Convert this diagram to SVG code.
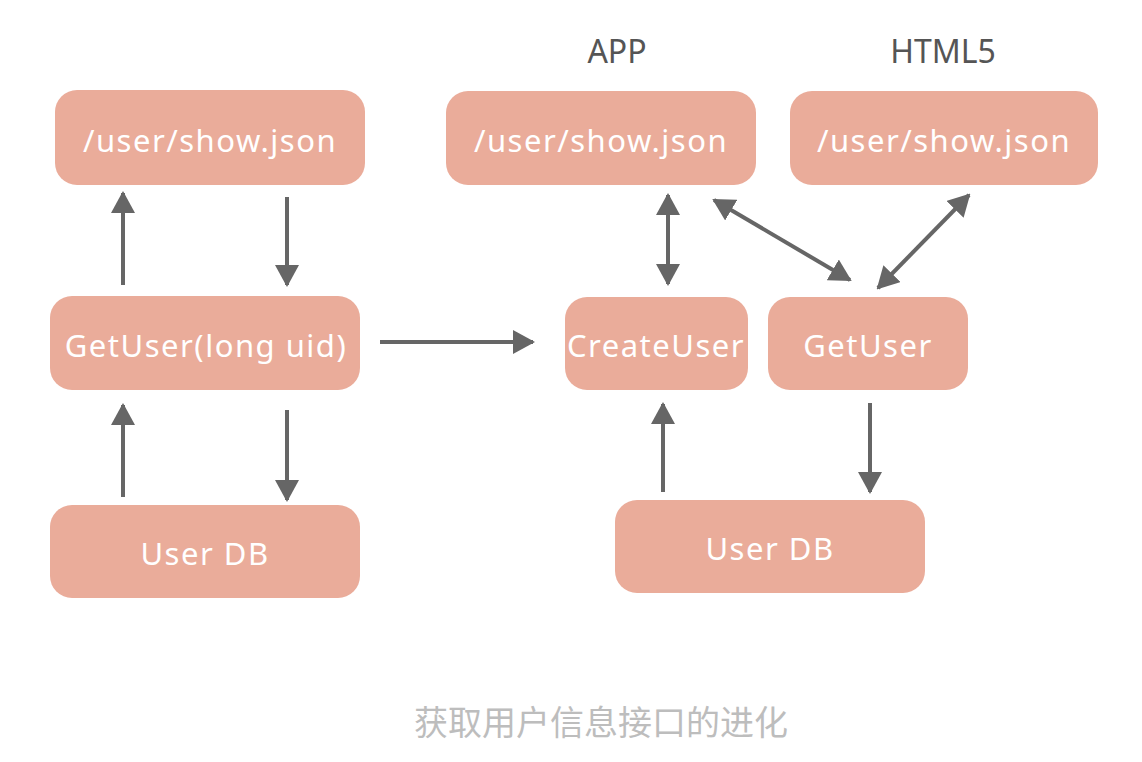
<svg xmlns="http://www.w3.org/2000/svg" width="1142" height="762" viewBox="0 0 1142 762">
<style>
.box{fill:#EAAC9A;}
.t{font-family:"Noto Sans","Liberation Sans",sans-serif;font-size:31px;letter-spacing:1.5px;fill:#ffffff;text-anchor:middle;dominant-baseline:central;}
.lbl{font-family:"Noto Sans","Liberation Sans",sans-serif;font-size:32px;fill:#555555;text-anchor:middle;dominant-baseline:central;}
.cap{font-family:"Noto Sans CJK SC",sans-serif;font-size:34px;fill:#bdbdbd;text-anchor:middle;dominant-baseline:central;}
.c{stroke:#666666;stroke-width:4;fill:none;}
</style>
<defs>
<marker id="ah" viewBox="0 0 22 24" refX="20" refY="12" markerWidth="22" markerHeight="24" markerUnits="userSpaceOnUse" orient="auto-start-reverse">
<path d="M0,0 L22,12 L0,24 Z" fill="#666666"/>
</marker>
</defs>
<rect width="1142" height="762" fill="#ffffff"/>
<text class="lbl" x="617" y="50">APP</text>
<text class="lbl" x="943" y="50">HTML5</text>
<g id="l-show"><rect class="box" x="55" y="90" width="310" height="95" rx="22"/><text class="t" x="210" y="140">/user/show.json</text></g>
<g id="l-getuser"><rect class="box" x="50" y="296" width="310" height="94" rx="22"/><text class="t" x="206" y="345">GetUser(long uid)</text></g>
<g id="l-db"><rect class="box" x="50" y="505" width="310" height="93" rx="22"/><text class="t" x="205" y="553">User DB</text></g>
<g id="app-show"><rect class="box" x="446" y="91" width="310" height="94" rx="22"/><text class="t" x="601" y="140">/user/show.json</text></g>
<g id="h5-show"><rect class="box" x="790" y="91" width="308" height="94" rx="22"/><text class="t" x="944" y="140">/user/show.json</text></g>
<g id="createuser"><rect class="box" x="565" y="297" width="183" height="93" rx="22"/><text class="t" x="656" y="345">CreateUser</text></g>
<g id="getuser"><rect class="box" x="768" y="297" width="200" height="93" rx="22"/><text class="t" x="868" y="345">GetUser</text></g>
<g id="r-db"><rect class="box" x="615" y="500" width="310" height="93" rx="22"/><text class="t" x="770" y="548">User DB</text></g>
<g id="connectors">
<line class="c" x1="123" y1="285" x2="123" y2="193" marker-end="url(#ah)"/>
<line class="c" x1="287" y1="197" x2="287" y2="285" marker-end="url(#ah)"/>
<line class="c" x1="123" y1="497" x2="123" y2="405" marker-end="url(#ah)"/>
<line class="c" x1="287" y1="410" x2="287" y2="500" marker-end="url(#ah)"/>
<line class="c" x1="380" y1="342" x2="533" y2="342" marker-end="url(#ah)"/>
<line class="c" x1="668" y1="195" x2="668" y2="284" marker-start="url(#ah)" marker-end="url(#ah)"/>
<line class="c" x1="714" y1="200" x2="850" y2="280" marker-start="url(#ah)" marker-end="url(#ah)"/>
<line class="c" x1="969" y1="195" x2="878" y2="288" marker-start="url(#ah)" marker-end="url(#ah)"/>
<line class="c" x1="663" y1="492" x2="663" y2="404" marker-end="url(#ah)"/>
<line class="c" x1="870" y1="403" x2="870" y2="492" marker-end="url(#ah)"/>
</g>
<text class="cap" x="601" y="720">获取用户信息接口的进化</text>
</svg>
